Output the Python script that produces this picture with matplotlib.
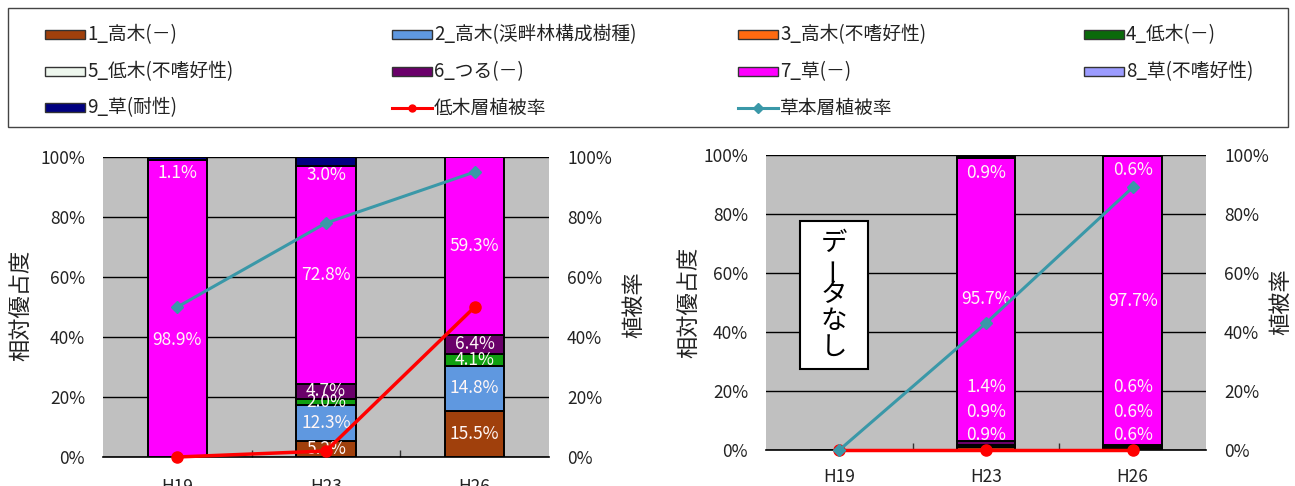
import matplotlib
matplotlib.use('Agg')
import matplotlib.pyplot as plt
from matplotlib.patches import Rectangle
from matplotlib.lines import Line2D
from matplotlib.ticker import FuncFormatter, FixedLocator

plt.rcParams['font.family'] = ['Noto Sans CJK JP', 'DejaVu Sans']

# ---------------- data ----------------
categories = ['H19', 'H23', 'H26']
series_names = ['1_高木(－)', '2_高木(渓畔林構成樹種)', '3_高木(不嗜好性)', '4_低木(－)',
                '5_低木(不嗜好性)', '6_つる(－)', '7_草(－)', '8_草(不嗜好性)', '9_草(耐性)']
series_colors = ['#A0400C', '#5F98E0', '#FF6A10', '#10A010', '#EEF7EE',
                 '#6A006A', '#FF00FF', '#9C9CFF', '#000080']
legend_colors = ['#A0400C', '#5F98E0', '#FF6A10', '#0A6A0A', '#EEF7EE',
                 '#6A006A', '#FF00FF', '#9C9CFF', '#000080']
line_names = ['低木層植被率', '草本層植被率']

# relative dominance (%) per category, in series order 1..9
left_h19 = [0.0, 0.0, 0.0, 0.0, 0.0, 0.0, 98.9, 0.0, 1.1]
left_h23 = [5.2, 12.3, 0.0, 2.0, 0.0, 4.7, 72.8, 0.0, 3.0]
left_h26 = [15.5, 14.8, 0.0, 4.1, 0.0, 6.4, 59.3, 0.0, 0.0]
right_h19 = [0.0] * 9          # no data
right_h23 = [0.9, 0.0, 0.0, 0.9, 0.0, 1.4, 95.7, 0.0, 0.9]
right_h26 = [0.6, 0.0, 0.0, 0.6, 0.0, 0.6, 97.7, 0.0, 0.6]

# coverage (fraction)
left_shrub_cover = [0.0, 0.02, 0.50]
left_herb_cover = [0.50, 0.78, 0.95]
right_shrub_cover = [0.0, 0.0, 0.0]
right_herb_cover = [0.0, 0.43, 0.89]

no_data_text = 'データなし'

# ---------------- layout ----------------
W, H = 1295, 486
fig = plt.figure(figsize=(W / 100, H / 100), dpi=100)


def fx(px):
    return px / W


def fy(py):
    return 1 - py / H


TICK_FS = 12.5
LABEL_FS = 12.5
TXT = '#222222'
pct = FuncFormatter(lambda v, p: f'{v:.0f}%')
pct1 = FuncFormatter(lambda v, p: f'{v * 100:.0f}%')

# label placement overrides (chart, category index, series index) -> y
label_y = {
    ('L', 0, 6): 39.0, ('L', 0, 8): 94.7, ('L', 1, 8): 94.0,
    ('R', 1, 0): 5.0, ('R', 1, 3): 13.0, ('R', 1, 5): 21.4, ('R', 1, 8): 94.0,
    ('R', 2, 0): 5.0, ('R', 2, 3): 13.0, ('R', 2, 5): 21.4, ('R', 2, 8): 94.8,
}


def draw_chart(key, rect, cols, shrub, herb, xpad):
    ax = fig.add_axes(rect)
    ax.set_facecolor('#C0C0C0')
    x = list(range(len(categories)))
    bottoms = [0.0] * len(categories)
    for si in range(len(series_names)):
        vals = [c[si] for c in cols]
        ax.bar(x, vals, width=0.40, bottom=bottoms, color=series_colors[si],
               edgecolor='black', linewidth=1.4, zorder=3)
        for ci, v in enumerate(vals):
            if v > 0:
                y = label_y.get((key, ci, si), bottoms[ci] + v / 2)
                ax.text(ci, y, f'{v:.1f}%', ha='center', va='center',
                        fontsize=LABEL_FS, color='#FFF6F6', zorder=5)
        bottoms = [b + v for b, v in zip(bottoms, vals)]
    ax.set_xlim(-0.5, 2.5)
    ax.set_ylim(0, 100)
    ax.set_yticks([0, 20, 40, 60, 80, 100])
    ax.yaxis.set_major_formatter(pct)
    ax.set_xticks(x)
    ax.set_xticklabels(categories)
    ax.xaxis.set_minor_locator(FixedLocator([0.5, 1.5]))
    ax.tick_params(axis='x', which='major', length=0, pad=xpad, labelsize=TICK_FS, colors=TXT)
    ax.tick_params(axis='x', which='minor', length=5, direction='in', color='#333333', width=1)
    ax.tick_params(axis='y', length=0, pad=13, labelsize=TICK_FS, colors=TXT)
    ax.grid(axis='y', color='black', linewidth=1.0, zorder=1)
    ax.set_axisbelow(True)
    for s in ['left', 'right', 'top']:
        ax.spines[s].set_visible(False)
    ax.spines['bottom'].set_color('black')
    ax.spines['bottom'].set_linewidth(1.2)

    ax2 = ax.twinx()
    ax2.set_ylim(0, 1)
    ax2.set_yticks([0, 0.2, 0.4, 0.6, 0.8, 1.0])
    ax2.yaxis.set_major_formatter(pct1)
    ax2.tick_params(axis='y', length=0, pad=13, labelsize=TICK_FS, colors=TXT)
    for s in ax2.spines.values():
        s.set_visible(False)
    ax2.plot(x, shrub, color='#FF0000', linewidth=2.5, marker='o', markersize=8,
             zorder=4, clip_on=False)
    ax2.plot(x, herb, color='#3A98A8', linewidth=2.2, marker='D', markersize=6,
             zorder=5, clip_on=False)
    return ax, ax2


axL, _ = draw_chart('L', [fx(103), fy(457), fx(549) - fx(103), fy(157) - fy(457)],
                    [left_h19, left_h23, left_h26], left_shrub_cover, left_herb_cover, 15)
axR, _ = draw_chart('R', [fx(766), fy(450), fx(1206) - fx(766), fy(155) - fy(450)],
                    [right_h19, right_h23, right_h26], right_shrub_cover, right_herb_cover, 13)

# axis titles
for xp, yp, t in [(22, 305, '相対優占度'), (634, 305, '植被率'),
                  (690, 302, '相対優占度'), (1281, 302, '植被率')]:
    fig.text(fx(xp), fy(yp), t, rotation=90, ha='center', va='center',
             fontsize=16, color=TXT)

# "データなし" box
bx0, bx1, by0, by1 = 800, 868, 221, 369
fig.add_artist(Rectangle((fx(bx0), fy(by1)), fx(bx1) - fx(bx0), fy(by0) - fy(by1),
                         transform=fig.transFigure, facecolor='white',
                         edgecolor='black', linewidth=1.5, zorder=10))
for i, ch in enumerate(no_data_text):
    fig.text(fx((bx0 + bx1) / 2), fy(by0 + 22 + i * 26), ch, ha='center', va='center',
             fontsize=19, color='black', rotation=90 if ch == 'ー' else 0, zorder=11)

# legend box
fig.add_artist(Rectangle((fx(8), fy(127)), fx(1288) - fx(8), fy(8) - fy(127),
                         transform=fig.transFigure, fill=False,
                         edgecolor='#444444', linewidth=1.0))
col_x = [45, 392, 738, 1084]
row_y = [35, 72, 108]
entries = [(n, 'bar', legend_colors[i]) for i, n in enumerate(series_names)]
entries += [(line_names[0], 'red', None), (line_names[1], 'teal', None)]
PW, PH = 40, 9
for k, (name, kind, c) in enumerate(entries):
    r, cidx = divmod(k, 4)
    x0, yc = col_x[cidx], row_y[r]
    if kind == 'bar':
        fig.add_artist(Rectangle((fx(x0), fy(yc + PH / 2)), fx(PW), PH / H,
                                 transform=fig.transFigure, facecolor=c,
                                 edgecolor='#333333', linewidth=1.0))
    else:
        col = '#FF0000' if kind == 'red' else '#3A98A8'
        mk = 'o' if kind == 'red' else 'D'
        fig.add_artist(Line2D([fx(x0), fx(x0 + PW)], [fy(yc), fy(yc)],
                              transform=fig.transFigure, color=col, linewidth=2.2))
        fig.add_artist(Line2D([fx(x0 + PW / 2)], [fy(yc)], transform=fig.transFigure,
                              color=col, marker=mk, markersize=5, linestyle='none'))
    fig.text(fx(x0 + PW + 2), fy(yc), name, ha='left', va='center',
             fontsize=13.5, color=TXT)

fig.savefig('out.png', dpi=100)
